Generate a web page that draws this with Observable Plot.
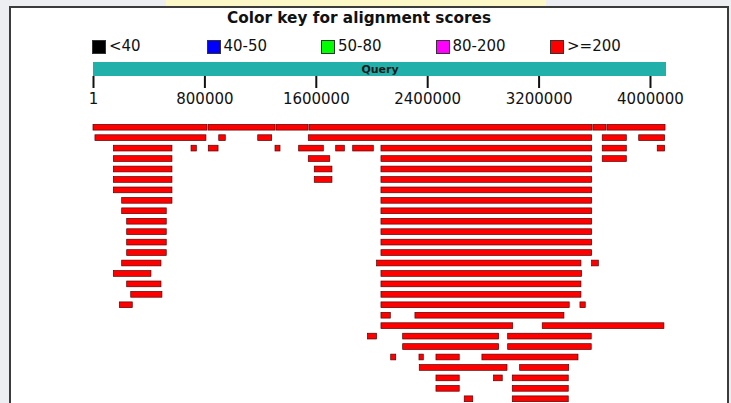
<!DOCTYPE html>
<html>
<head>
<meta charset="utf-8">
<script src="https://cdn.jsdelivr.net/npm/d3@7"></script>
<script src="https://cdn.jsdelivr.net/npm/@observablehq/plot@0.6"></script>
<style>
  html, body { margin: 0; padding: 0; }
  body { width: 731px; height: 403px; overflow: hidden; position: relative; background: #eceef1;
         font-family: "DejaVu Sans", Verdana, sans-serif; color: #111; }
  #strip { position: absolute; left: 166px; top: 0; width: 380px; height: 6px; background: #fbf7c6; }
  #frame { position: absolute; left: 9px; top: 6px; width: 716px; height: 430px; border: 2px solid #3b3b3b; background: #fff; }
  #title { position: absolute; left: 227px; top: 11px; font-weight: bold; font-size: 15.3px; line-height: 15px; white-space: nowrap; }
  #legend { position: absolute; left: 92px; top: 39px; display: flex; }
  .item { width: 114.5px; display: flex; align-items: center; gap: 3px; font-size: 15px; line-height: 15px; }
  .sw { width: 14px; height: 14px; box-sizing: border-box; border: 1px solid #333; }
  #axis { position: absolute; left: 0; top: 62px; }
  #hits { position: absolute; left: 0; top: 118px; }
</style>
</head>
<body>
<div id="strip"></div>
<div id="frame"></div>
<div id="title"></div>
<div id="legend"></div>
<div id="axis"></div>
<div id="hits"></div>
<script>
// ---- data ----
const titleText = "Color key for alignment scores";
const legendLabels = ["<40", "40-50", "50-80", "80-200", ">=200"];
const legendColors = ["#000000", "#0000ff", "#00ff00", "#ff00ff", "#ff0000"];
const queryLabel = "Query";
const queryLength = 4115000;
const tickValues = [1, 800000, 1600000, 2400000, 3200000, 4000000];

// hit segments: row index, start, end (query coordinates)
const hitRow = [
  0,0,0,0,0,0,
  1,1,1,1,1,1,
  2,2,2,2,2,2,2,2,2,2,
  3,3,3,3,
  4,4,4,
  5,5,5,
  6,6,
  7,7,
  8,8,
  9,9,
  10,10,
  11,11,
  12,12,
  13,13,13,
  14,14,
  15,15,
  16,16,
  17,17,17,
  18,18,
  19,19,
  20,20,20,
  21,21,
  22,22,22,22,
  23,23,
  24,24,24,
  25,25,
  26,26
];
const hitStart = [
  1, 826000, 1314000, 1551000, 3590000, 3691000,
  14000, 903000, 1183000, 1546000, 3657000, 3919000,
  146000, 704000, 828000, 1307000, 1477000, 1743000, 1865000, 2068000, 3657000, 4052000,
  146000, 1546000, 2068000, 3657000,
  146000, 1589000, 2068000,
  146000, 1589000, 2068000,
  146000, 2068000,
  206000, 2068000,
  206000, 2068000,
  242000, 2068000,
  242000, 2068000,
  242000, 2068000,
  242000, 2068000,
  206000, 2037000, 3581000,
  146000, 2068000,
  242000, 2068000,
  271000, 2068000,
  189000, 2068000, 3497000,
  2068000, 2312000,
  2068000, 3226000,
  1971000, 2224000, 2978000,
  2224000, 2978000,
  2138000, 2341000, 2463000, 2793000,
  2343000, 3064000,
  2463000, 2877000, 3011000,
  2463000, 3011000,
  2666000, 3011000
];
const hitEnd = [
  818000, 1307000, 1544000, 3583000, 3684000, 4108000,
  811000, 950000, 1283000, 3581000, 3830000, 4105000,
  567000, 742000, 898000, 1343000, 1654000, 1805000, 2013000, 3581000, 3830000, 4105000,
  567000, 1700000, 3581000, 3830000,
  567000, 1716000, 3581000,
  567000, 1716000, 3581000,
  567000, 3581000,
  567000, 3581000,
  526000, 3581000,
  526000, 3581000,
  526000, 3581000,
  526000, 3581000,
  526000, 3581000,
  488000, 3504000, 3629000,
  416000, 3509000,
  488000, 3504000,
  495000, 3504000,
  282000, 3420000, 3535000,
  2135000, 3382000,
  3014000, 4100000,
  2036000, 2913000, 3578000,
  2913000, 3578000,
  2174000, 2372000, 2630000, 3483000,
  2973000, 3416000,
  2630000, 2939000, 3413000,
  2630000, 3413000,
  2727000, 3413000
];

// ---- header (title + legend) ----
document.getElementById("title").textContent = titleText;
const legend = document.getElementById("legend");
legendLabels.forEach((lab, i) => {
  const item = document.createElement("div");
  item.className = "item";
  const sw = document.createElement("div");
  sw.className = "sw";
  sw.style.background = legendColors[i];
  const t = document.createElement("span");
  t.textContent = lab;
  item.appendChild(sw);
  item.appendChild(t);
  legend.appendChild(item);
});

const W = 731, ML = 93, MR = 65;
const xScale = {domain: [1, queryLength]};

// ---- query bar + axis ----
const axisPlot = Plot.plot({
  width: W, height: 50,
  marginLeft: ML, marginRight: MR, marginTop: 0, marginBottom: 36,
  x: xScale,
  style: {fontFamily: "DejaVu Sans, Verdana, sans-serif", fontSize: "15px", color: "#111", background: "transparent", overflow: "visible"},
  marks: [
    Plot.rect([{s: 1, e: queryLength}], {x1: "s", x2: "e", fill: "#22b0aa"}),
    Plot.text([queryLabel], {frameAnchor: "middle", text: d => d, fontWeight: "bold", fontSize: 11, fill: "#1a1a1a"}),
    Plot.axisX(tickValues, {anchor: "bottom", tickSize: 12, tickPadding: 5, strokeWidth: 2, stroke: "#111",
      tickFormat: d => String(d), fontSize: 15, fill: "#111"})
  ]
});
document.getElementById("axis").appendChild(axisPlot);

// ---- hits ----
const hits = hitRow.map((r, i) => ({row: r, start: hitStart[i], end: hitEnd[i]}));
const rows = Array.from(new Set(hitRow)).sort((a, b) => a - b);
const hitPlot = Plot.plot({
  width: W, height: 286,
  marginLeft: ML, marginRight: MR, marginTop: 4, marginBottom: 0,
  x: {...xScale, axis: null},
  y: {type: "band", domain: rows, paddingInner: 0.45, paddingOuter: 0.225, axis: null, round: false},
  style: {background: "transparent", overflow: "visible"},
  marks: [
    Plot.barX(hits, {x1: "start", x2: "end", y: "row", fill: "#ff0000", stroke: "#5a0000", strokeWidth: 0.7})
  ]
});
document.getElementById("hits").appendChild(hitPlot);
</script>
</body>
</html>
